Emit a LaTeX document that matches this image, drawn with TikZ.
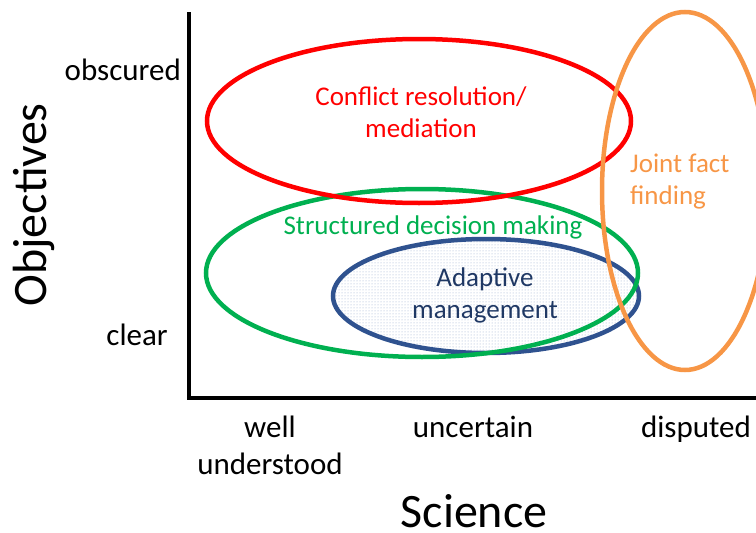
\documentclass[tikz,border=0pt]{standalone}
\usepackage{fontspec}
\setmainfont{Carlito}
\usetikzlibrary{patterns}

\definecolor{crred}{RGB}{255,0,0}
\definecolor{sdmgreen}{RGB}{0,176,80}
\definecolor{amblue}{RGB}{47,82,143}
\definecolor{amtext}{RGB}{31,56,100}
\definecolor{jfforange}{RGB}{247,150,70}
\definecolor{dotblue}{RGB}{150,170,205}

\tikzset{
  ring/.style={line width=4.5pt},
  axisline/.style={line width=3.5pt, line cap=rect},
  ticklab/.style={font=\fontsize{31}{37}\selectfont, inner sep=0pt},
  axtitle/.style={font=\fontsize{48}{56}\selectfont, inner sep=0pt},
  inlab/.style={font=\fontsize{27}{32}\selectfont, inner sep=0pt, align=center},
}

\begin{document}
\begin{tikzpicture}[x=1pt,y=-1pt]
  \useasboundingbox (0,0) rectangle (756,533);

  % --- Axes ---
  \coordinate (top) at (189,14);
  \coordinate (orig) at (189,398);
  \coordinate (xend) at (758,398);
  \draw[axisline] (top) -- (orig) -- (xend);

  % --- Approach regions ---
  \draw[ring, amblue, pattern=dots, pattern color=dotblue] (486,296) ellipse [x radius=153, y radius=57];
  \draw[ring, sdmgreen] (422,273) ellipse [x radius=216, y radius=84];
  \draw[ring, crred] (419,121) ellipse [x radius=212, y radius=82];
  \draw[ring, jfforange] (685,191) ellipse [x radius=83, y radius=179];

  % --- Region labels (base = last line) ---
  \node (cr) [inlab, crred, anchor=base] at (421,137) {Conflict resolution/\\mediation};
  \node (sdm) [inlab, sdmgreen, anchor=base] at (433,234) {Structured decision making};
  \node (am) [inlab, amtext, anchor=base] at (485,318) {Adaptive\\management};
  \node (jff) [inlab, jfforange, anchor=base west, align=left] at (630,204) {Joint fact\\finding};

  % --- Tick labels ---
  \node (obs) [ticklab, anchor=base east] at (181,80) {obscured};
  \node (clr) [ticklab, anchor=base east] at (168,345) {clear};
  \node (wu) [ticklab, anchor=base, align=center] at (270,474) {well\\understood};
  \node (unc) [ticklab, anchor=base] at (473,437) {uncertain};
  \node (dis) [ticklab, anchor=base] at (696,437) {disputed};

  % --- Axis titles ---
  \node (obj) [axtitle, rotate=90, anchor=base] at (46,205) {Objectives};
  \node (sci) [axtitle, anchor=base, text depth=0pt] at (474,527) {Science};
\end{tikzpicture}
\end{document}
